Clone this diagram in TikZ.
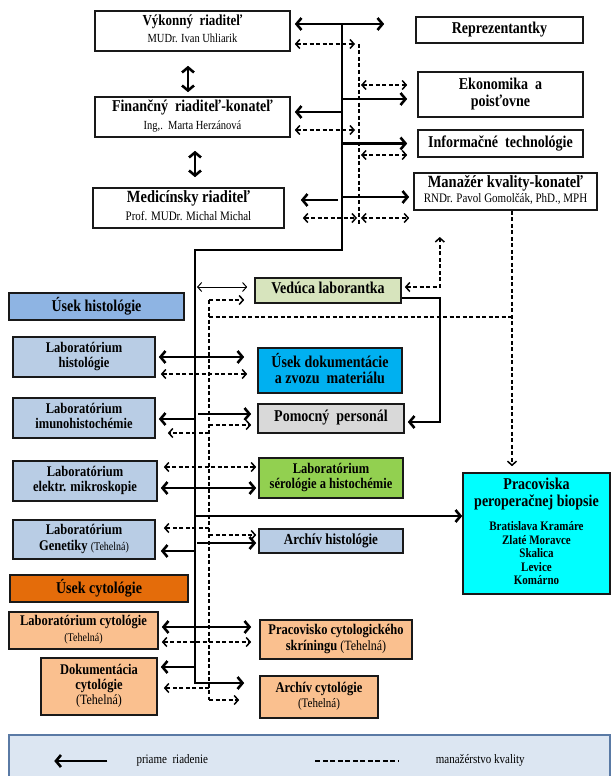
\documentclass[tikz,border=0pt]{standalone}
\usepackage{fontspec}
\setmainfont{Liberation Serif}
\usetikzlibrary{arrows.meta,calc}
\definecolor{vedC}{HTML}{D7E4BD}
\definecolor{dokC}{HTML}{00B0F0}
\definecolor{pomC}{HTML}{D9D9D9}
\definecolor{hisC}{HTML}{8EB4E3}
\definecolor{labC}{HTML}{B9CDE5}
\definecolor{serC}{HTML}{92D050}
\definecolor{pracC}{HTML}{00FFFF}
\definecolor{cytC}{HTML}{E46C0A}
\definecolor{peachC}{HTML}{FAC08F}
\definecolor{legF}{HTML}{DCE6F2}
\definecolor{legB}{HTML}{5A7AA5}
\newcommand\tx[1]{\scalebox{1}[1.18]{\begin{tabular}{@{}c@{}}#1\end{tabular}}}
\newcommand\fz[1]{\fontsize{#1}{#1}\selectfont}
\tikzset{
  box/.style={draw=black!90, line width=1.6pt, inner sep=0pt, font=\fontsize{10}{13}\selectfont},
  sol/.style={line width=2.6pt},
  solA/.style={sol, -{Straight Barb[length=5pt,width=12pt]}},
  solAA/.style={sol, {Straight Barb[length=5pt,width=12pt]}-{Straight Barb[length=5pt,width=12pt]}},
  thinAA/.style={line width=1pt, {Straight Barb[length=4pt,width=9pt]}-{Straight Barb[length=4pt,width=9pt]}},
  dsh/.style={line width=1.5pt, dash pattern=on 4pt off 2.5pt},
  dshA/.style={dsh, -{Straight Barb[length=4pt,width=9pt]}},
  dshAA/.style={dsh, {Straight Barb[length=4pt,width=9pt]}-{Straight Barb[length=4pt,width=9pt]}},
}
\begin{document}
\begin{tikzpicture}[x=1pt,y=-1pt]
\useasboundingbox (0,0) rectangle (613,776);
\fill[white] (0,0) rectangle (613,776);

% ---- top boxes
\node[box, minimum width=195pt, minimum height=40pt] (vyk) at (192.5,31) {\tx{\fz{13}\bfseries Výkonný\ \ riaditeľ\\[2pt] \fz{10.5}MUDr. Ivan Uhliarik}};
\node[box, minimum width=195pt, minimum height=40pt] (fin) at (192.5,117) {\tx{\fz{14}\bfseries Finančný\ \ riaditeľ-konateľ\\[2pt] \fz{10.5}Ing,.\ \ Marta Herzánová}};
\node[box, minimum width=191pt, minimum height=40pt] (med) at (188.5,208) {\tx{\fz{14.5}\bfseries Medicínsky riaditeľ\\[2pt] \fz{11}Prof. MUDr. Michal Michal}};
\node[box, minimum width=167pt, minimum height=26pt] (rep) at (499.5,30) {\tx{\fz{14}\bfseries Reprezentantky}};
\node[box, minimum width=165pt, minimum height=45pt] (eko) at (500.5,94.5) {\tx{\fz{14}\bfseries Ekonomika\ \ a\\[1pt] \fz{14}\bfseries poisťovne}};
\node[box, minimum width=165pt, minimum height=27pt] (inf) at (500.5,143.5) {\tx{\fz{14}\bfseries Informačné\ \ technológie}};
\node[box, minimum width=183pt, minimum height=37pt] (man) at (505.5,191.5) {\tx{\fz{14.5}\bfseries Manažér kvality-konateľ\\ \fz{11}RNDr. Pavol Gomolčák, PhD., MPH}};

% ---- middle boxes
\node[box, fill=vedC, minimum width=146pt, minimum height=25pt] (ved) at (328,290.5) {\tx{\fz{14}\bfseries Vedúca laborantka}};
\node[box, fill=dokC, minimum width=144pt, minimum height=45pt] (usdok) at (330,370.5) {\tx{\fz{14}\bfseries Úsek dokumentácie\\ \fz{14}\bfseries a zvozu\ \ materiálu}};
\node[box, fill=pomC, minimum width=146pt, minimum height=29pt] (pom) at (331,418.5) {\tx{\fz{14}\bfseries Pomocný\ \ personál}};
\node[box, fill=hisC, minimum width=175pt, minimum height=27pt] (ushist) at (96.5,306.5) {\tx{\fz{14}\bfseries Úsek histológie}};
\node[box, fill=labC, minimum width=142pt, minimum height=40pt] (labhist) at (84,357) {\tx{\fz{12.5}\bfseries Laboratórium\\ \fz{12.5}\bfseries histológie}};
\node[box, fill=labC, minimum width=142pt, minimum height=40pt] (labimu) at (84,418) {\tx{\fz{12.5}\bfseries Laboratórium\\ \fz{12.5}\bfseries imunohistochémie}};
\node[box, fill=labC, minimum width=144pt, minimum height=40pt] (label) at (85,481) {\tx{\fz{12.5}\bfseries Laboratórium\\ \fz{12.5}\bfseries elektr. mikroskopie}};
\node[box, fill=labC, minimum width=142pt, minimum height=39pt] (labgen) at (84,539.5) {\tx{\fz{12.5}\bfseries Laboratórium\\ \fz{12.5}\bfseries Genetiky \fz{10}\mdseries(Tehelná)}};
\node[box, fill=cytC, minimum width=178pt, minimum height=27pt] (uscyt) at (99,588.5) {\tx{\fz{14}\bfseries Úsek cytológie}};
\node[box, fill=serC, minimum width=144pt, minimum height=40pt] (labser) at (331,478) {\tx{\fz{12.5}\bfseries Laboratórium\\ \fz{12.5}\bfseries sérológie a histochémie}};
\node[box, fill=labC, minimum width=144pt, minimum height=24pt] (archhist) at (331,541) {\tx{\fz{13}\bfseries Archív histológie}};
\node[box, fill=pracC, minimum width=147pt, minimum height=121pt, font=\fontsize{9}{11.5}\selectfont] (prac) at (536.5,533.5) {\tx{\fz{14}\bfseries Pracoviska\\[1pt] \fz{14}\bfseries peroperačnej biopsie\\[9pt] \fz{11}\bfseries Bratislava Kramáre\\ \fz{11}\bfseries Zlaté Moravce\\ \fz{11}\bfseries Skalica\\ \fz{11}\bfseries Levice\\ \fz{11}\bfseries Komárno}};

% ---- cytology boxes
\node[box, fill=peachC, minimum width=149pt, minimum height=37pt] (labcyt) at (83.5,630.5) {\tx{\fz{12.5}\bfseries Laboratórium cytológie\\ \fz{10}(Tehelná)}};
\node[box, fill=peachC, minimum width=116pt, minimum height=57pt] (dokcyt) at (99,686.5) {\tx{\fz{12.5}\bfseries Dokumentácia\\ \fz{12.5}\bfseries cytológie\\ \fz{12}(Tehelná)}};
\node[box, fill=peachC, minimum width=152pt, minimum height=39pt] (praccyt) at (336,639.5) {\tx{\fz{12.5}\bfseries Pracovisko cytologického\\ \fz{12.5}\bfseries skríningu \fz{12}\mdseries(Tehelná)}};
\node[box, fill=peachC, minimum width=118pt, minimum height=42pt] (archcyt) at (319,697) {\tx{\fz{12.5}\bfseries Archív cytológie\\ \fz{11}(Tehelná)}};

% ---- trunk and dashed spines
\coordinate (t0) at (342,24);
\coordinate (t1) at (342,250);
\coordinate (t2) at (195,250);
\coordinate (t3) at (195,683);
\coordinate (d0) at (359,44);
\coordinate (d1) at (359,225);
\coordinate (q0) at (209,300);
\coordinate (q1) at (209,700);
\draw[solA] (t0) -- (t1) -- (t2) -- (t3) -- ([xshift=-15pt,yshift=14pt]archcyt.west);
\draw[dsh] (d0) -- (d1);
\draw[dsh] (q0) -- (q1);

% ---- top connectors
\draw[solAA] ([xshift=4pt,yshift=7pt]vyk.east) -- ([xshift=-31pt,yshift=6pt]rep.west);
\draw[dshAA] ([xshift=4pt,yshift=-13pt]vyk.east) -- ($(d0)+(-4,0)$);
\draw[solAA] ([xshift=-4.5pt,yshift=-14pt]vyk.south) -- ([xshift=-4.5pt,yshift=4pt]fin.north);
\coordinate (ekoD) at ([xshift=-10pt,yshift=9.5pt]eko.west);
\coordinate (ekoS) at ([xshift=-10pt,yshift=-4.5pt]eko.west);
\draw[dshAA] ($(d0|-ekoD)+(2,0)$) -- (ekoD);
\draw[solA] (t0|-ekoS) -- (ekoS);
\coordinate (finS) at ([xshift=4pt,yshift=5pt]fin.east);
\draw[solA] (t0|-finS) -- (finS);
\draw[dshAA] ([xshift=4pt,yshift=-13pt]fin.east) -- ($(d0|-fin.east)+(-4,13)$);
\coordinate (infS) at ([xshift=-10pt]inf.west);
\coordinate (infD) at ([xshift=-10pt,yshift=-11.5pt]inf.west);
\draw[solA] (t0|-infS) -- (infS);
\draw[dshAA] ($(d0|-infD)+(2,0)$) -- (infD);
\draw[solAA] ([xshift=2.5pt,yshift=-13pt]fin.south) -- ([xshift=6.5pt,yshift=10pt]med.north);
\coordinate (manS) at ([xshift=-4pt,yshift=-5.5pt]man.west);
\coordinate (manD) at ([xshift=-4pt,yshift=-26.5pt]man.west);
\coordinate (medS) at ([xshift=16pt,yshift=8pt]med.east);
\draw[solA] (t0|-manS) -- (manS);
\draw[solA] ($(t0|-medS)+(-4,0)$) -- (medS);
\draw[dshAA] ([xshift=18pt,yshift=-10pt]med.east) -- ($(d0|-med.east)+(-2,10)$);
\draw[dshAA] ($(d0|-manD)+(2,0)$) -- (manD);

% ---- Vedúca and quality line
\coordinate (vedT) at ([xshift=-7pt,yshift=3.5pt]ved.west);
\draw[thinAA] ($(t2|-vedT)+(2,0)$) -- (vedT);
\draw[dshA] (q0) -- ([xshift=-10pt,yshift=-9.5pt]ved.west);
\coordinate (m0) at ([xshift=6.5pt]man.south);
\coordinate (m1) at ([xshift=-24.5pt,yshift=6pt]prac.north);
\draw[dshA] (m0) -- (m1);
\coordinate (qh) at (209,317);
\draw[dsh] (qh) -- (qh -| m0);
\draw[dshAA] ([xshift=3pt,yshift=3.5pt]ved.east) -- ++(35,0) -- ++(0,-50);
\draw[solA] ([yshift=-7.5pt]ved.east) -- ++(38,0) |- ([xshift=3pt,yshift=-3.5pt]pom.east);

% ---- histology connectors
\draw[solAA] ([xshift=3pt]labhist.east) -- ([xshift=-13pt,yshift=13.5pt]usdok.west);
\draw[dshAA] ([xshift=5pt,yshift=-17pt]labhist.east) -- ([xshift=-10pt,yshift=-3.5pt]usdok.west);
\coordinate (imuS) at ([xshift=3pt,yshift=-1pt]labimu.east);
\coordinate (pomS) at ([xshift=-6pt,yshift=4.5pt]pom.west);
\coordinate (imuD) at ([xshift=12pt,yshift=-15pt]labimu.east);
\coordinate (pomD) at ([xshift=-6pt,yshift=-6.5pt]pom.west);
\draw[solA] (t2|-imuS) -- (imuS);
\draw[solA] ($(t2|-pomS)+(3,0)$) -- (pomS);
\draw[dshA] (q0|-imuD) -- (imuD);
\draw[dshA] (q0|-pomD) -- (pomD);
\draw[dshAA] ([xshift=6pt,yshift=14pt]label.east) -- ([xshift=-2pt,yshift=11pt]labser.west);
\draw[solAA] ([xshift=3pt,yshift=-7pt]label.east) -- ([xshift=-2pt,yshift=-10pt]labser.west);
\coordinate (pracA) at ([yshift=17.5pt]prac.west);
\draw[solA] (t2|-pracA) -- (pracA);
\coordinate (genD1) at ([xshift=8pt,yshift=11.5pt]labgen.east);
\coordinate (genD2) at ([xshift=-2pt,yshift=6pt]archhist.west);
\coordinate (genS1) at ([xshift=5pt,yshift=-11.5pt]labgen.east);
\coordinate (genS2) at ([xshift=-2pt,yshift=-2pt]archhist.west);
\draw[dshA] (q0|-genD1) -- (genD1);
\draw[dshA] (q0|-genD2) -- (genD2);
\draw[solA] (t2|-genS1) -- (genS1);
\draw[solA] ($(t2|-genS2)+(2,0)$) -- (genS2);

% ---- cytology connectors
\draw[solAA] ([xshift=3pt,yshift=3.5pt]labcyt.east) -- ([xshift=-8pt,yshift=12.5pt]praccyt.west);
\draw[dshAA] ([xshift=3pt,yshift=-11.5pt]labcyt.east) -- ([xshift=-8pt,yshift=-2.5pt]praccyt.west);
\coordinate (dokS) at ([xshift=3pt,yshift=19.5pt]dokcyt.east);
\coordinate (dokD) at ([xshift=6pt,yshift=-1.5pt]dokcyt.east);
\draw[solA] (t2|-dokS) -- (dokS);
\draw[dshA] (q0|-dokD) -- (dokD);
\draw[dshA] (q1) -- ([xshift=-20pt,yshift=-3pt]archcyt.west);

% ---- legend
\node[draw=legB, fill=legF, line width=1.5pt, inner sep=0pt, minimum width=601pt, minimum height=45pt] (leg) at (309.5,757.5) {};
\draw[solA] ([xshift=99pt,yshift=-3.5pt]leg.west) -- ([xshift=46pt,yshift=-3.5pt]leg.west);
\node[inner sep=0pt] (l1) at ([xshift=164pt,yshift=-3pt]leg.west) {\tx{\fz{11}priame\ \ riadenie}};
\draw[dsh, line width=2pt, dash pattern=on 5pt off 2.5pt] ([xshift=307pt,yshift=-3.5pt]leg.west) -- ([xshift=390pt,yshift=-3.5pt]leg.west);
\node[inner sep=0pt] (l2) at ([xshift=472pt,yshift=-3pt]leg.west) {\tx{\fz{11}manažérstvo kvality}};
\end{tikzpicture}
\end{document}
